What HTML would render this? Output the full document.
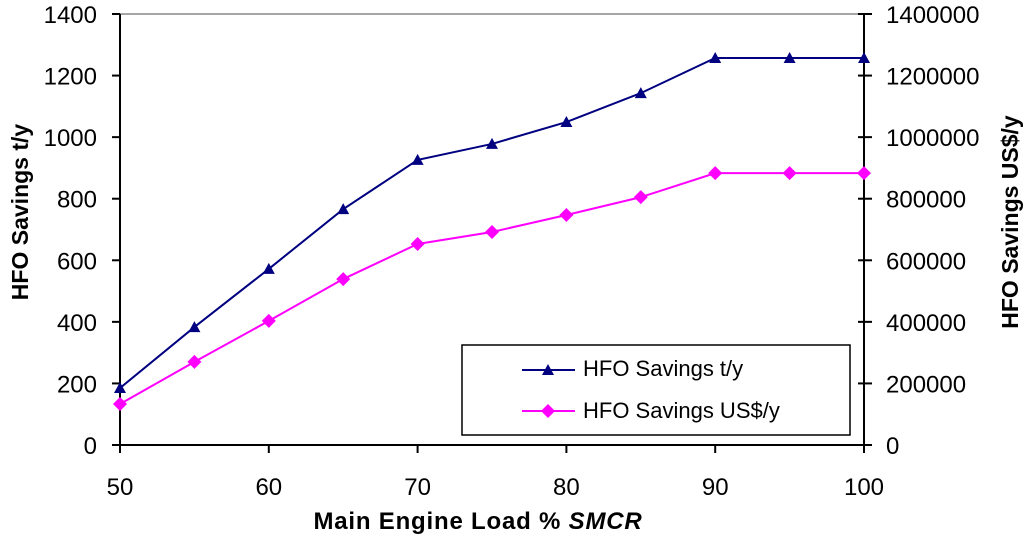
<!DOCTYPE html>
<html><head><meta charset="utf-8"><style>
html,body{margin:0;padding:0;background:#fff;}
svg{display:block;font-family:"Liberation Sans",Arial,sans-serif;}
</style></head><body>
<svg id="chart" width="1024" height="537"></svg>
<script>
const categories=[50,55,60,65,70,75,80,85,90,95,100];
const tonsSeries=[185,383,572,766,926,978,1049,1143,1257,1257,1257];
const usdSeries=[133000,270000,403000,539000,653000,692000,747000,805000,883000,883000,883000];
const leftTicks=[0,200,400,600,800,1000,1200,1400];
const rightTicks=[0,200000,400000,600000,800000,1000000,1200000,1400000];
const xTicks=[50,60,70,80,90,100];

const NS='http://www.w3.org/2000/svg';
const svg=document.getElementById('chart');
const X0=120,X1=864,Y0=445,Y1=14;
const xs=v=>X0+(v-50)/50*(X1-X0);
const yl=v=>Y0-v/1400*(Y0-Y1);
const yr=v=>Y0-v/1400000*(Y0-Y1);
function mk(tag,attrs,parent){const e=document.createElementNS(NS,tag);for(const k in attrs)e.setAttribute(k,attrs[k]);(parent||svg).appendChild(e);return e;}

const topBorder=mk('line',{x1:X0,y1:Y1,x2:X1,y2:Y1,stroke:'#888','stroke-width':1.5});


const la=mk('line',{x1:X0,y1:Y1,x2:X0,y2:Y0,stroke:'#000','stroke-width':2});


const ra=mk('line',{x1:X1,y1:Y1,x2:X1,y2:Y0,stroke:'#000','stroke-width':2});


const xa=mk('line',{x1:X0,y1:Y0,x2:X1,y2:Y0,stroke:'#000','stroke-width':2});



leftTicks.forEach(v=>{
 mk('line',{x1:X0-8,y1:yl(v),x2:X0,y2:yl(v),stroke:'#000','stroke-width':2});
 const t=mk('text',{x:97,y:yl(v)+9,'text-anchor':'end','font-size':24});t.textContent=v;
 
 
});
rightTicks.forEach(v=>{
 mk('line',{x1:X1-6,y1:yr(v),x2:X1+8,y2:yr(v),stroke:'#000','stroke-width':2});
 const t=mk('text',{x:886,y:yr(v)+9,'text-anchor':'start','font-size':24});t.textContent=v;
 
 
});
xTicks.forEach(v=>{
 mk('line',{x1:xs(v),y1:Y0,x2:xs(v),y2:Y0+8,stroke:'#000','stroke-width':2});
 const t=mk('text',{x:xs(v),y:495,'text-anchor':'middle','font-size':24});t.textContent=v;
 
 
});

const xt=mk('text',{x:478,y:529,'text-anchor':'middle','font-size':24,'font-weight':'bold','letter-spacing':'0.8'});
xt.innerHTML='Main Engine Load % <tspan font-style="italic">SMCR</tspan>';


const ylt=mk('text',{x:0,y:0,'text-anchor':'middle','font-size':23,'font-weight':'bold',transform:'translate(28,212) rotate(-90)'});
ylt.textContent='HFO Savings t/y';


const yrt=mk('text',{x:0,y:0,'text-anchor':'middle','font-size':23,'font-weight':'bold',transform:'translate(1018,222) rotate(-90)'});
yrt.textContent='HFO Savings US$/y';



const tri=(g,x,y,c)=>mk('polygon',{points:`${x},${y-6} ${x-6},${y+5} ${x+6},${y+5}`,fill:c},g);
const dia=(g,x,y,c)=>mk('polygon',{points:`${x},${y-7} ${x+7},${y} ${x},${y+7} ${x-7},${y}`,fill:c},g);

const g1=mk('g',{});


mk('polyline',{points:categories.map((c,i)=>xs(c)+','+yl(tonsSeries[i])).join(' '),fill:'none',stroke:'#000080','stroke-width':2},g1);
categories.forEach((c,i)=>{const m=tri(g1,xs(c),yl(tonsSeries[i]),'#000080');
 
 });

const g2=mk('g',{});


mk('polyline',{points:categories.map((c,i)=>xs(c)+','+yr(usdSeries[i])).join(' '),fill:'none',stroke:'#ff00ff','stroke-width':2},g2);
categories.forEach((c,i)=>{const m=dia(g2,xs(c),yr(usdSeries[i]),'#ff00ff');
 
 });

const lg=mk('g',{});


mk('rect',{x:462,y:345,width:388,height:90,fill:'#fff',stroke:'#000','stroke-width':1.5},lg);
mk('line',{x1:522,y1:370,x2:575,y2:370,stroke:'#000080','stroke-width':2},lg);
tri(lg,548,370,'#000080');
const l1=mk('text',{x:583,y:376,'font-size':22},lg);l1.textContent='HFO Savings t/y';


mk('line',{x1:522,y1:411,x2:575,y2:411,stroke:'#ff00ff','stroke-width':2},lg);
dia(lg,548,411,'#ff00ff');
const l2=mk('text',{x:583,y:418,'font-size':22},lg);l2.textContent='HFO Savings US$/y';


</script>
</body></html>
